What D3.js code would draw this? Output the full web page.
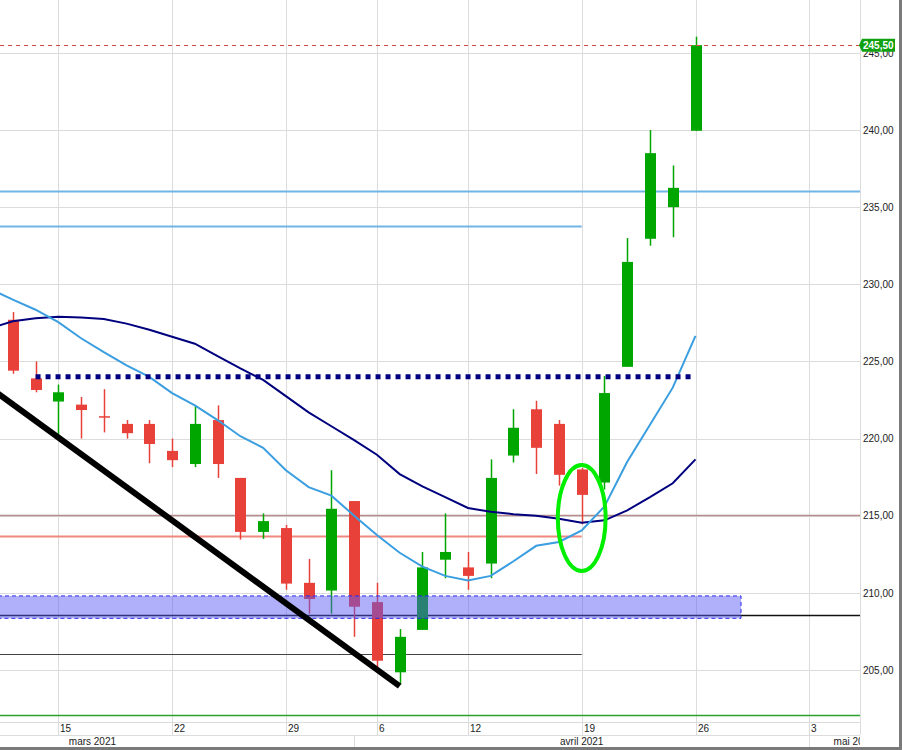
<!DOCTYPE html>
<html>
<head>
<meta charset="utf-8">
<script src="https://cdn.jsdelivr.net/npm/d3@7"></script>
<style>
  body { margin: 0; background: #fff; }
  svg { display: block; font-family: 'Liberation Sans', Arial, sans-serif; }
</style>
</head>
<body>
<div id="chart"></div>
<script>
// Trading days (Euronext, Good Friday + Easter Monday closed)
const tradingDays = [
  '2021-03-01', '2021-03-02', '2021-03-03', '2021-03-04', '2021-03-05',
  '2021-03-08', '2021-03-09', '2021-03-10', '2021-03-11', '2021-03-12',
  '2021-03-15', '2021-03-16', '2021-03-17', '2021-03-18', '2021-03-19',
  '2021-03-22', '2021-03-23', '2021-03-24', '2021-03-25', '2021-03-26',
  '2021-03-29', '2021-03-30', '2021-03-31', '2021-04-01', '2021-04-06',
  '2021-04-07', '2021-04-08', '2021-04-09', '2021-04-12', '2021-04-13',
  '2021-04-14', '2021-04-15', '2021-04-16', '2021-04-19', '2021-04-20',
  '2021-04-21', '2021-04-22', '2021-04-23', '2021-04-26', '2021-04-27',
  '2021-04-28', '2021-04-29', '2021-04-30', '2021-05-03', '2021-05-04',
  '2021-05-05', '2021-05-06', '2021-05-07', '2021-05-10', '2021-05-11',
  '2021-05-12', '2021-05-13', '2021-05-14', '2021-05-17', '2021-05-18',
  '2021-05-19', '2021-05-20', '2021-05-21', '2021-05-24', '2021-05-25',
  '2021-05-26', '2021-05-27', '2021-05-28', '2021-05-31', '2021-06-01',
];

// Daily candles
const candleDates = [
  '2021-03-11', '2021-03-12', '2021-03-15', '2021-03-16', '2021-03-17',
  '2021-03-18', '2021-03-19', '2021-03-22', '2021-03-23', '2021-03-24',
  '2021-03-25', '2021-03-26', '2021-03-29', '2021-03-30', '2021-03-31',
  '2021-04-01', '2021-04-06', '2021-04-07', '2021-04-08', '2021-04-09',
  '2021-04-12', '2021-04-13', '2021-04-14', '2021-04-15', '2021-04-16',
  '2021-04-19', '2021-04-20', '2021-04-21', '2021-04-22', '2021-04-23',
  '2021-04-26',
];
const opens = [
  227.7, 223.9, 222.4, 222.2, 221.45, 220.95, 220.95, 219.2, 218.35, 221.2,
  217.45, 213.95, 214.2, 210.65, 210.15, 215.95, 209.4, 204.85, 207.6, 212.15,
  211.65, 211.9, 218.9, 221.9, 220.95, 218.0, 217.15, 224.65, 232.95, 235.0,
  239.95,
];
const highs = [
  228.2, 225.0, 223.5, 222.7, 223.2, 221.2, 221.2, 220.0, 222.1, 222.15,
  217.45, 215.15, 214.4, 212.2, 217.95, 215.95, 210.65, 207.65, 212.65, 215.15,
  212.65, 218.65, 221.9, 222.45, 221.2, 218.1, 224.05, 233.0, 240.0, 237.7,
  246.05,
];
const lows = [
  224.2, 223.0, 220.2, 220.0, 220.4, 220.0, 218.4, 218.15, 218.15, 217.45,
  213.45, 213.5, 210.2, 208.65, 208.65, 207.15, 205.2, 204.05, 207.6, 210.95,
  210.2, 210.95, 218.45, 217.7, 216.95, 214.45, 216.7, 224.65, 232.5, 233.05,
  239.95,
];
const closes = [
  224.4, 223.15, 223.0, 221.85, 221.4, 220.35, 219.65, 218.6, 220.95, 218.35,
  213.95, 214.65, 210.6, 209.6, 215.45, 209.1, 205.6, 207.15, 211.65, 212.65,
  211.1, 217.45, 220.7, 219.4, 217.65, 216.35, 222.95, 231.45, 238.5, 236.25,
  245.5,
];

// Moving averages (start one day before the first visible candle)
const maDates = ['2021-03-10'].concat(candleDates);
const maShort = [
  229.7, 229.0, 228.35, 227.55, 226.5, 225.6, 224.75, 224.0, 222.95, 222.15,
  221.2, 220.15, 219.4, 217.95, 216.85, 216.3, 215.0, 213.75, 212.6, 211.7,
  211.1, 210.8, 211.1, 212.05, 213.05, 213.3, 214.05, 215.6, 218.5, 220.9,
  223.3, 226.65,
];
const maLong = [
  227.15, 227.6, 227.8, 227.9, 227.85, 227.75, 227.45, 227.05, 226.6, 226.15,
  225.35, 224.55, 223.8, 222.75, 221.7, 220.8, 219.9, 218.95, 217.7, 216.9,
  216.2, 215.5, 215.25, 215.1, 215.0, 214.8, 214.55, 214.7, 215.35, 216.2,
  217.1, 218.65,
];

// Tick labels
const priceTicks = [205, 210, 215, 220, 225, 230, 235, 240, 245];
const dayTicks = [
  '2021-03-15', '2021-03-22', '2021-03-29', '2021-04-06',
  '2021-04-12', '2021-04-19', '2021-04-26', '2021-05-03',
];
const dayTickLabels = ['15', '22', '29', '6', '12', '19', '26', '3'];
const monthLabels = ['mars 2021', 'avril 2021', 'mai 2021'];
const monthStarts = ['2021-03-01', '2021-04-01', '2021-05-03'];
const monthEnds = ['2021-04-01', '2021-05-03', '2021-06-01'];

// Drawn annotations (price levels)
const lastPrice = 245.5;
const fullLevels = [236.05, 215.05, 208.55, 202.1];
const shortLevels = [233.75, 213.7, 206.05];
const shortLevelEnd = '2021-04-19';
const dottedLevel = 224.0;
const dottedFrom = '2021-03-12';
const dottedTo = '2021-04-26';
const zoneTop = 209.8;
const zoneBottom = 208.35;
const zoneEnd = '2021-04-28';
const trendDates = ['2021-03-10', '2021-04-07'];
const trendValues = [223.3, 203.95];
const circleDate = '2021-04-19';
const circleValue = 214.85;
const circleHalfHeight = 3.43;
const circleHalfWidth = 1.05;

// Layout
const width = 902;
const height = 750;
const plotRight = 860;
const plotBottom = 722;
const dayRowBottom = 735;
const stripBottom = 747;
const borderRight = 899;

const idx = new Map(tradingDays.map((d, i) => [d, i]));

const x = d3.scaleLinear().domain([8, 38]).range([12.8, 695.5]);
const y = d3.scaleLinear().domain([205, 240]).range([670, 130]);
const xd = (d) => x(idx.get(d));

const fmt = d3
  .formatLocale({ decimal: ',', thousands: ' ', grouping: [3], currency: ['', '€'] })
  .format('.2f');

const svg = d3
  .select('#chart')
  .append('svg')
  .attr('width', width)
  .attr('height', height);

svg.append('rect').attr('width', width).attr('height', height).attr('fill', '#fff');

const defs = svg.append('defs');
defs
  .append('clipPath')
  .attr('id', 'plotClip')
  .append('rect')
  .attr('width', plotRight)
  .attr('height', plotBottom);
defs
  .append('clipPath')
  .attr('id', 'stripClip')
  .append('rect')
  .attr('width', plotRight)
  .attr('height', height);

// Grid
const grid = svg.append('g').attr('stroke', '#dcdcdc').attr('stroke-width', 1);
grid
  .selectAll('.hgrid')
  .data(priceTicks)
  .enter()
  .append('line')
  .attr('x1', 0)
  .attr('x2', plotRight)
  .attr('y1', (d) => Math.round(y(d)) + 0.5)
  .attr('y2', (d) => Math.round(y(d)) + 0.5);
grid
  .selectAll('.vgrid')
  .data(dayTicks)
  .enter()
  .append('line')
  .attr('x1', (d) => Math.round(xd(d)) + 0.5)
  .attr('x2', (d) => Math.round(xd(d)) + 0.5)
  .attr('y1', 0)
  .attr('y2', dayRowBottom);

const plot = svg.append('g').attr('clip-path', 'url(#plotClip)');

// Horizontal levels
const levelColors = ['#6fb6e6', '#b88c8c', '#111', '#2ca02c'];
plot
  .selectAll('.full-level')
  .data(fullLevels)
  .enter()
  .append('line')
  .attr('x1', 0)
  .attr('x2', plotRight)
  .attr('y1', (d) => Math.round(y(d)) + 0.5)
  .attr('y2', (d) => Math.round(y(d)) + 0.5)
  .attr('stroke', (d, i) => levelColors[i])
  .attr('stroke-width', (d, i) => (i === 0 ? 2 : 1.5));

const shortColors = ['#6fb6e6', '#f08880', '#444'];
plot
  .selectAll('.short-level')
  .data(shortLevels)
  .enter()
  .append('line')
  .attr('x1', 0)
  .attr('x2', xd(shortLevelEnd))
  .attr('y1', (d) => Math.round(y(d)) + 0.5)
  .attr('y2', (d) => Math.round(y(d)) + 0.5)
  .attr('stroke', (d, i) => shortColors[i])
  .attr('stroke-width', (d, i) => (i === 2 ? 1.2 : 2));

// Candles
const candles = candleDates.map((d, i) => ({
  date: d,
  o: opens[i],
  h: highs[i],
  l: lows[i],
  c: closes[i],
}));
const up = '#00a600';
const down = '#e8413a';
const bodyW = 11;

plot
  .selectAll('.wick')
  .data(candles)
  .enter()
  .append('line')
  .attr('x1', (d) => Math.round(xd(d.date)) + 0.5)
  .attr('x2', (d) => Math.round(xd(d.date)) + 0.5)
  .attr('y1', (d) => y(d.h))
  .attr('y2', (d) => y(d.l))
  .attr('stroke', (d) => (d.c >= d.o ? up : down))
  .attr('stroke-width', 1.5);

plot
  .selectAll('.body')
  .data(candles)
  .enter()
  .append('rect')
  .attr('x', (d) => Math.round(xd(d.date)) + 0.5 - bodyW / 2)
  .attr('y', (d) => y(Math.max(d.o, d.c)))
  .attr('width', bodyW)
  .attr('height', (d) => Math.max(1.5, Math.abs(y(d.o) - y(d.c))))
  .attr('fill', (d) => (d.c >= d.o ? up : down));

// Moving averages
const maLine = (vals) =>
  d3
    .line()
    .x((d, i) => xd(maDates[i]))
    .y((d) => y(d))(vals);

plot
  .append('path')
  .attr('d', maLine(maLong))
  .attr('fill', 'none')
  .attr('stroke', '#00007f')
  .attr('stroke-width', 2);

plot
  .append('path')
  .attr('d', maLine(maShort))
  .attr('fill', 'none')
  .attr('stroke', '#3a9ee0')
  .attr('stroke-width', 2);

// Support zone
plot
  .append('rect')
  .attr('x', -2)
  .attr('y', y(zoneTop))
  .attr('width', xd(zoneEnd) + 2)
  .attr('height', y(zoneBottom) - y(zoneTop))
  .attr('fill', 'rgba(88, 88, 245, 0.47)')
  .attr('stroke', '#2a2af0')
  .attr('stroke-width', 1)
  .attr('stroke-dasharray', '4,3');

// Dotted resistance
plot
  .append('line')
  .attr('x1', xd(dottedFrom))
  .attr('x2', xd(dottedTo))
  .attr('y1', y(dottedLevel))
  .attr('y2', y(dottedLevel))
  .attr('stroke', '#000080')
  .attr('stroke-width', 5)
  .attr('stroke-dasharray', '5,5');

// Down trend line
plot
  .append('line')
  .attr('x1', xd(trendDates[0]))
  .attr('y1', y(trendValues[0]))
  .attr('x2', xd(trendDates[1]))
  .attr('y2', y(trendValues[1]))
  .attr('stroke', '#000')
  .attr('stroke-width', 6);

// Highlight ellipse
plot
  .append('ellipse')
  .attr('cx', xd(circleDate))
  .attr('cy', y(circleValue))
  .attr('rx', x(circleHalfWidth) - x(0))
  .attr('ry', y(circleValue - circleHalfHeight) - y(circleValue))
  .attr('fill', 'none')
  .attr('stroke', '#00ee00')
  .attr('stroke-width', 4);

// Last price dashed line
plot
  .append('line')
  .attr('x1', 0)
  .attr('x2', plotRight)
  .attr('y1', Math.round(y(lastPrice)) + 0.5)
  .attr('y2', Math.round(y(lastPrice)) + 0.5)
  .attr('stroke', '#d04a40')
  .attr('stroke-dasharray', '4,4');

// Right price axis
svg
  .append('line')
  .attr('x1', plotRight + 0.5)
  .attr('x2', plotRight + 0.5)
  .attr('y1', 0)
  .attr('y2', dayRowBottom)
  .attr('stroke', '#dcdcdc');

const yAxis = d3.axisRight(y).tickValues(priceTicks).tickSize(0).tickPadding(3).tickFormat(fmt);
svg
  .append('g')
  .attr('transform', 'translate(' + plotRight + ',0)')
  .call(yAxis)
  .call((g) => g.select('.domain').remove())
  .selectAll('text')
  .style('font-size', '10px')
  .style('font-family', "'Liberation Sans', Arial, sans-serif")
  .attr('fill', '#222');

// Last price tag
const tagY = y(lastPrice);
svg
  .append('path')
  .attr('d', `M${plotRight - 1},${tagY} L${plotRight + 2},${tagY - 6.5} L${plotRight + 35},${tagY - 6.5} L${plotRight + 35},${tagY + 6.5} L${plotRight + 2},${tagY + 6.5} Z`)
  .attr('fill', '#10a010');
svg
  .append('text')
  .attr('x', plotRight + 3)
  .attr('y', tagY)
  .attr('dy', '0.35em')
  .style('font-size', '10px')
  .style('font-weight', 'bold')
  .attr('fill', '#fff')
  .text(fmt(lastPrice));

// Bottom date strip
const strip = svg.append('g').attr('clip-path', 'url(#stripClip)');
strip
  .append('line')
  .attr('x1', 0)
  .attr('x2', plotRight)
  .attr('y1', plotBottom + 0.5)
  .attr('y2', plotBottom + 0.5)
  .attr('stroke', '#dcdcdc');
strip
  .append('line')
  .attr('x1', 0)
  .attr('x2', plotRight)
  .attr('y1', dayRowBottom + 0.5)
  .attr('y2', dayRowBottom + 0.5)
  .attr('stroke', '#dcdcdc');

strip
  .selectAll('.day-label')
  .data(dayTicks)
  .enter()
  .append('text')
  .attr('x', (d) => Math.round(xd(d)) + 2)
  .attr('y', dayRowBottom - 3)
  .style('font-size', '10px')
  .attr('fill', '#222')
  .text((d, i) => dayTickLabels[i]);

strip
  .selectAll('.month-sep')
  .data(monthStarts.slice(1))
  .enter()
  .append('line')
  .attr('x1', (d) => Math.round(xd(d)) + 0.5)
  .attr('x2', (d) => Math.round(xd(d)) + 0.5)
  .attr('y1', dayRowBottom)
  .attr('y2', stripBottom)
  .attr('stroke', '#dcdcdc');

strip
  .selectAll('.month-label')
  .data(monthLabels)
  .enter()
  .append('text')
  .attr('x', (d, i) => (xd(monthStarts[i]) + Math.min(xd(monthEnds[i]), borderRight)) / 2)
  .attr('y', stripBottom - 2)
  .attr('text-anchor', 'middle')
  .style('font-size', '10px')
  .attr('fill', '#222')
  .text((d) => d);

// Window borders
svg
  .append('rect')
  .attr('x', 0)
  .attr('y', stripBottom)
  .attr('width', width)
  .attr('height', height - stripBottom)
  .attr('fill', '#7a7a7a');
svg
  .append('rect')
  .attr('x', borderRight)
  .attr('y', 0)
  .attr('width', width - borderRight)
  .attr('height', height)
  .attr('fill', '#7a7a7a');
</script>
</body>
</html>
